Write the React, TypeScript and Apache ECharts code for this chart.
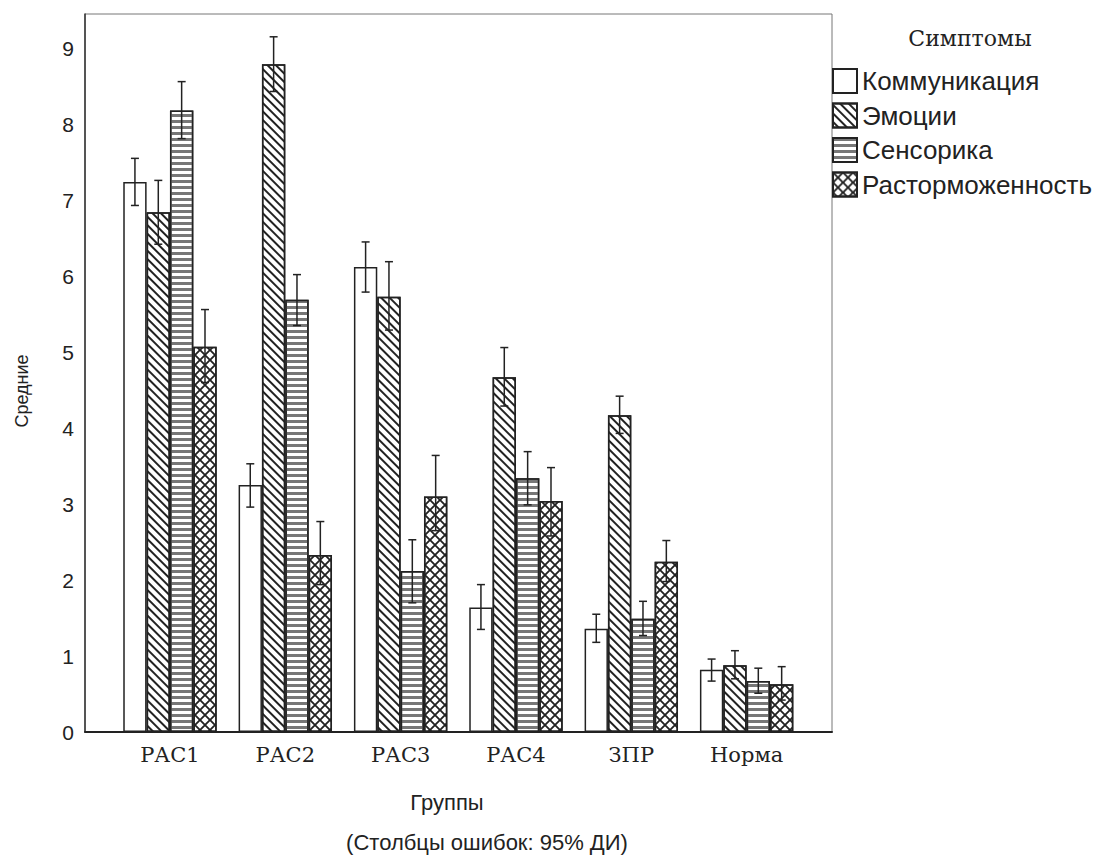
import React, { useEffect, useRef } from "react";
import * as echarts from "echarts";

const categories = ["РАС1", "РАС2", "РАС3", "РАС4", "ЗПР", "Норма"];
const seriesNames = ["Коммуникация", "Эмоции", "Сенсорика", "Расторможенность"];

const commMean = [7.24, 3.25, 6.12, 1.64, 1.36, 0.82];
const commLow = [6.93, 2.96, 5.79, 1.35, 1.18, 0.67];
const commHigh = [7.55, 3.53, 6.45, 1.94, 1.55, 0.96];

const emoMean = [6.84, 8.79, 5.73, 4.67, 4.17, 0.88];
const emoLow = [6.42, 8.43, 5.29, 4.29, 3.93, 0.7];
const emoHigh = [7.26, 9.15, 6.19, 5.06, 4.42, 1.07];

const sensMean = [8.18, 5.69, 2.12, 3.34, 1.49, 0.67];
const sensLow = [7.81, 5.35, 1.7, 2.99, 1.27, 0.51];
const sensHigh = [8.56, 6.02, 2.53, 3.69, 1.72, 0.84];

const disMean = [5.07, 2.33, 3.1, 3.04, 2.24, 0.63];
const disLow = [4.6, 1.94, 2.65, 2.58, 1.98, 0.42];
const disHigh = [5.56, 2.77, 3.64, 3.48, 2.52, 0.86];

const means = [commMean, emoMean, sensMean, disMean];
const lows = [commLow, emoLow, sensLow, disLow];
const highs = [commHigh, emoHigh, sensHigh, disHigh];

const Y_MAX = 9.45;
const CAT_GAP = 0.19;

const decals: any[] = [
  null,
  {
    symbol: "rect",
    symbolSize: 1,
    dashArrayX: [1, 0],
    dashArrayY: [2, 3.5],
    rotation: Math.PI / 4,
    color: "#222",
  },
  {
    symbol: "rect",
    symbolSize: 1,
    dashArrayX: [1, 0],
    dashArrayY: [2.5, 2.5],
    rotation: 0,
    color: "#777",
  },
  {
    symbol:
      "path://M0,0 L1.3,0 L10,8.7 L10,10 L8.7,10 L0,1.3 Z M8.7,0 L10,0 L10,1.3 L1.3,10 L0,10 L0,8.7 Z",
    symbolSize: 1,
    symbolKeepAspect: false,
    dashArrayX: [10, 0],
    dashArrayY: [10, 0],
    rotation: 0,
    color: "#222",
  },
];

export default function App() {
  const ref = useRef<HTMLDivElement>(null);

  useEffect(() => {
    if (!ref.current) return;
    const chart = echarts.init(ref.current, undefined, { renderer: "svg" });

    const barSeries = seriesNames.map((name, s) => {
      const itemStyle: any = {
        color: "#ffffff",
        borderColor: "#222",
        borderWidth: 1.5,
      };
      if (decals[s]) itemStyle.decal = decals[s];
      return {
        name,
        type: "bar",
        xAxisIndex: 0,
        yAxisIndex: 0,
        barCategoryGap: CAT_GAP * 100 + "%",
        barGap: "0%",
        data: means[s],
        itemStyle,
        emphasis: { disabled: true },
        z: 2,
      };
    });

    const errSeries = seriesNames.map((name, s) => ({
      name: name + " ДИ",
      type: "custom",
      xAxisIndex: 0,
      yAxisIndex: 0,
      z: 5,
      data: categories.map((_, i) => [i, lows[s][i], highs[s][i]]),
      renderItem: (params: any, api: any) => {
        const xi = api.value(0);
        const lo = api.coord([xi, api.value(1)]);
        const hi = api.coord([xi, api.value(2)]);
        const band = api.size([1, 0])[0];
        const group = band * (1 - CAT_GAP);
        const bw = group / 4;
        const x = lo[0] - group / 2 + (s + 0.5) * bw;
        const cap = 4;
        const style = { stroke: "#222", lineWidth: 1.5 };
        return {
          type: "group",
          children: [
            { type: "line", shape: { x1: x, y1: lo[1], x2: x, y2: hi[1] }, style },
            { type: "line", shape: { x1: x - cap, y1: hi[1], x2: x + cap, y2: hi[1] }, style },
            { type: "line", shape: { x1: x - cap, y1: lo[1], x2: x + cap, y2: lo[1] }, style },
          ],
        };
      },
    }));

    chart.setOption({
      animation: false,
      backgroundColor: "#ffffff",
      grid: [
        { left: 112.3, right: 296.7, top: 14, bottom: 132 },
        {
          left: 85,
          right: 269,
          top: 14,
          bottom: 132,
          show: true,
          borderColor: "#777",
          borderWidth: 1,
          backgroundColor: "transparent",
        },
      ],
      xAxis: [
        {
          type: "category",
          gridIndex: 0,
          data: categories,
          axisLine: { show: false },
          axisTick: { show: false },
          axisLabel: {
            fontFamily: "DejaVu Serif",
            fontSize: 21,
            color: "#222",
            margin: 12,
          },
        },
        {
          type: "value",
          gridIndex: 1,
          min: 0,
          max: 1,
          axisLine: { show: true, lineStyle: { color: "#222", width: 2 } },
          axisTick: { show: false },
          axisLabel: { show: false },
          splitLine: { show: false },
        },
      ],
      yAxis: [
        {
          type: "value",
          gridIndex: 0,
          min: 0,
          max: Y_MAX,
          interval: 1,
          show: false,
          splitLine: { show: false },
        },
        {
          type: "value",
          gridIndex: 1,
          min: 0,
          max: Y_MAX,
          interval: 1,
          axisLine: { show: true, lineStyle: { color: "#333", width: 1.5 } },
          axisTick: { show: false },
          splitLine: { show: false },
          axisLabel: {
            showMaxLabel: false,
            fontFamily: "Liberation Sans",
            fontSize: 21,
            color: "#222",
            margin: 11,
          },
        },
      ],
      legend: {
        data: seriesNames,
        orient: "vertical",
        left: 832,
        top: 68,
        padding: 0,
        itemWidth: 24,
        itemHeight: 24,
        itemGap: 8.5,
        icon: "rect",
        selectedMode: false,
        textStyle: {
          fontFamily: "Liberation Sans",
          fontSize: 26,
          lineHeight: 26,
          color: "#222",
        },
      },
      graphic: [
        {
          type: "text",
          x: 970,
          y: 38,
          style: {
            text: "Симптомы",
            fontFamily: "DejaVu Serif",
            fontSize: 22,
            fill: "#222",
            align: "center",
            verticalAlign: "middle",
          },
        },
        {
          type: "text",
          x: 22,
          y: 391,
          rotation: Math.PI / 2,
          style: {
            text: "Средние",
            fontFamily: "Liberation Sans",
            fontSize: 18,
            fill: "#222",
            align: "center",
            verticalAlign: "middle",
          },
        },
        {
          type: "text",
          x: 447,
          y: 802,
          style: {
            text: "Группы",
            fontFamily: "Liberation Sans",
            fontSize: 22,
            fill: "#222",
            align: "center",
            verticalAlign: "middle",
          },
        },
        {
          type: "text",
          x: 487,
          y: 842,
          style: {
            text: "(Столбцы ошибок: 95% ДИ)",
            fontFamily: "Liberation Sans",
            fontSize: 22,
            fill: "#222",
            align: "center",
            verticalAlign: "middle",
          },
        },
      ],
      series: [...barSeries, ...errSeries],
    });

    return () => chart.dispose();
  }, []);

  return (
    <div
      ref={ref}
      style={{ position: "fixed", left: 0, top: 0, width: 1101, height: 864 }}
    />
  );
}
